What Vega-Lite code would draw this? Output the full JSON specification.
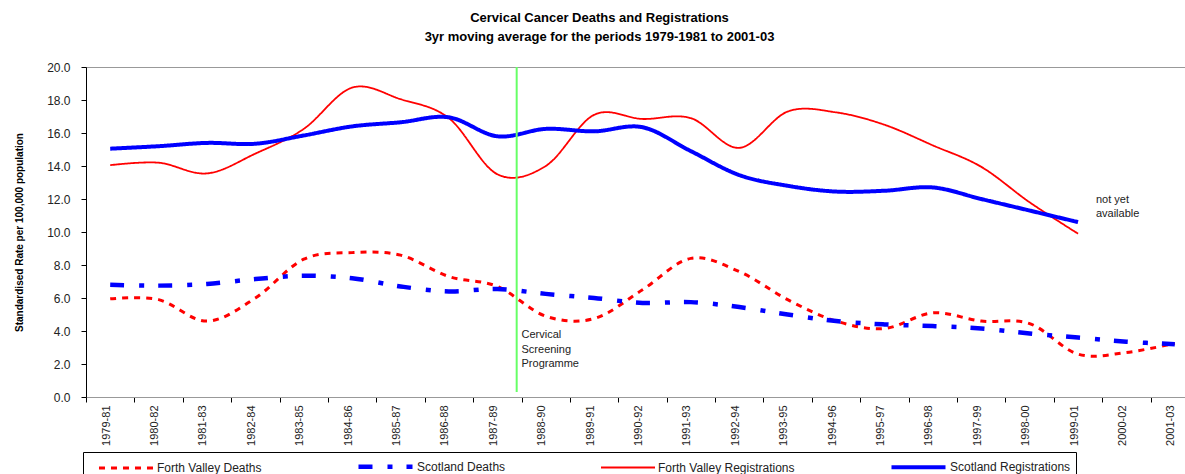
{
  "$schema": "https://vega.github.io/schema/vega-lite/v6.json",
  "width": 1099,
  "height": 330,
  "autosize": {"type": "none"},
  "padding": {"left": 86, "top": 67, "right": 0, "bottom": 77},
  "background": "white",
  "config": {"view": {"stroke": "#999", "strokeWidth": 1}, "font": "Liberation Sans", "axisY": {"labelOverlap": false}},
  "title": {
    "text": ["Cervical Cancer Deaths and Registrations", "3yr moving average for the periods 1979-1981 to 2001-03"],
    "fontSize": 13, "fontWeight": "bold", "font": "Liberation Sans", "color": "#000",
    "lineHeight": 19, "anchor": "middle", "frame": "group", "dx": -36, "offset": 17
  },
  "encoding": {
    "y": {
      "field": "value", "type": "quantitative",
      "scale": {"domain": [0, 20], "nice": false},
      "axis": {
        "title": "Standardised Rate per 100,000 population", "titleFontSize": 10,
        "titleFontWeight": "bold", "titleFont": "Liberation Sans", "titleColor": "#000",
        "titlePadding": 22, "values": [0, 2, 4, 6, 8, 10, 12, 14, 16, 18, 20], "tickCount": 11, "format": ".1f",
        "labelFontSize": 12, "labelColor": "#222", "labelFont": "Liberation Sans", "labelOverlap": false,
        "labelBound": false, "labelPadding": 11, "tickSize": 5, "tickColor": "#000", "domainColor": "#000", "grid": false
      }
    }
  },
  "layer": [
    {
      "data": {"values": [
        {"period": "1979-81", "series": "Forth Valley Deaths", "value": 5.95},
        {"period": "1980-82", "series": "Forth Valley Deaths", "value": 5.9},
        {"period": "1981-83", "series": "Forth Valley Deaths", "value": 4.6},
        {"period": "1982-84", "series": "Forth Valley Deaths", "value": 6.0},
        {"period": "1983-85", "series": "Forth Valley Deaths", "value": 8.35},
        {"period": "1984-86", "series": "Forth Valley Deaths", "value": 8.75},
        {"period": "1985-87", "series": "Forth Valley Deaths", "value": 8.6},
        {"period": "1986-88", "series": "Forth Valley Deaths", "value": 7.3},
        {"period": "1987-89", "series": "Forth Valley Deaths", "value": 6.7},
        {"period": "1988-90", "series": "Forth Valley Deaths", "value": 4.9},
        {"period": "1989-91", "series": "Forth Valley Deaths", "value": 4.75},
        {"period": "1990-92", "series": "Forth Valley Deaths", "value": 6.5},
        {"period": "1991-93", "series": "Forth Valley Deaths", "value": 8.4},
        {"period": "1992-94", "series": "Forth Valley Deaths", "value": 7.6},
        {"period": "1993-95", "series": "Forth Valley Deaths", "value": 5.9},
        {"period": "1994-96", "series": "Forth Valley Deaths", "value": 4.6},
        {"period": "1995-97", "series": "Forth Valley Deaths", "value": 4.15},
        {"period": "1996-98", "series": "Forth Valley Deaths", "value": 5.1},
        {"period": "1997-99", "series": "Forth Valley Deaths", "value": 4.6},
        {"period": "1998-00", "series": "Forth Valley Deaths", "value": 4.45},
        {"period": "1999-01", "series": "Forth Valley Deaths", "value": 2.6},
        {"period": "2000-02", "series": "Forth Valley Deaths", "value": 2.7},
        {"period": "2001-03", "series": "Forth Valley Deaths", "value": 3.25},
        {"period": "1979-81", "series": "Scotland Deaths", "value": 6.8},
        {"period": "1980-82", "series": "Scotland Deaths", "value": 6.75},
        {"period": "1981-83", "series": "Scotland Deaths", "value": 6.85},
        {"period": "1982-84", "series": "Scotland Deaths", "value": 7.15},
        {"period": "1983-85", "series": "Scotland Deaths", "value": 7.35},
        {"period": "1984-86", "series": "Scotland Deaths", "value": 7.2},
        {"period": "1985-87", "series": "Scotland Deaths", "value": 6.7},
        {"period": "1986-88", "series": "Scotland Deaths", "value": 6.4},
        {"period": "1987-89", "series": "Scotland Deaths", "value": 6.55},
        {"period": "1988-90", "series": "Scotland Deaths", "value": 6.25},
        {"period": "1989-91", "series": "Scotland Deaths", "value": 6.0},
        {"period": "1990-92", "series": "Scotland Deaths", "value": 5.7},
        {"period": "1991-93", "series": "Scotland Deaths", "value": 5.75},
        {"period": "1992-94", "series": "Scotland Deaths", "value": 5.45},
        {"period": "1993-95", "series": "Scotland Deaths", "value": 5.0},
        {"period": "1994-96", "series": "Scotland Deaths", "value": 4.6},
        {"period": "1995-97", "series": "Scotland Deaths", "value": 4.4},
        {"period": "1996-98", "series": "Scotland Deaths", "value": 4.3},
        {"period": "1997-99", "series": "Scotland Deaths", "value": 4.15},
        {"period": "1998-00", "series": "Scotland Deaths", "value": 3.85},
        {"period": "1999-01", "series": "Scotland Deaths", "value": 3.6},
        {"period": "2000-02", "series": "Scotland Deaths", "value": 3.35},
        {"period": "2001-03", "series": "Scotland Deaths", "value": 3.2},
        {"period": "1979-81", "series": "Forth Valley Registrations", "value": 14.05},
        {"period": "1980-82", "series": "Forth Valley Registrations", "value": 14.2},
        {"period": "1981-83", "series": "Forth Valley Registrations", "value": 13.55},
        {"period": "1982-84", "series": "Forth Valley Registrations", "value": 14.75},
        {"period": "1983-85", "series": "Forth Valley Registrations", "value": 16.25},
        {"period": "1984-86", "series": "Forth Valley Registrations", "value": 18.75},
        {"period": "1985-87", "series": "Forth Valley Registrations", "value": 18.05},
        {"period": "1986-88", "series": "Forth Valley Registrations", "value": 16.9},
        {"period": "1987-89", "series": "Forth Valley Registrations", "value": 13.5},
        {"period": "1988-90", "series": "Forth Valley Registrations", "value": 14.0},
        {"period": "1989-91", "series": "Forth Valley Registrations", "value": 17.1},
        {"period": "1990-92", "series": "Forth Valley Registrations", "value": 16.85},
        {"period": "1991-93", "series": "Forth Valley Registrations", "value": 16.9},
        {"period": "1992-94", "series": "Forth Valley Registrations", "value": 15.1},
        {"period": "1993-95", "series": "Forth Valley Registrations", "value": 17.3},
        {"period": "1994-96", "series": "Forth Valley Registrations", "value": 17.25},
        {"period": "1995-97", "series": "Forth Valley Registrations", "value": 16.5},
        {"period": "1996-98", "series": "Forth Valley Registrations", "value": 15.25},
        {"period": "1997-99", "series": "Forth Valley Registrations", "value": 13.95},
        {"period": "1998-00", "series": "Forth Valley Registrations", "value": 11.8},
        {"period": "1999-01", "series": "Forth Valley Registrations", "value": 9.9},
        {"period": "1979-81", "series": "Scotland Registrations", "value": 15.05},
        {"period": "1980-82", "series": "Scotland Registrations", "value": 15.2},
        {"period": "1981-83", "series": "Scotland Registrations", "value": 15.4},
        {"period": "1982-84", "series": "Scotland Registrations", "value": 15.35},
        {"period": "1983-85", "series": "Scotland Registrations", "value": 15.85},
        {"period": "1984-86", "series": "Scotland Registrations", "value": 16.4},
        {"period": "1985-87", "series": "Scotland Registrations", "value": 16.65},
        {"period": "1986-88", "series": "Scotland Registrations", "value": 16.95},
        {"period": "1987-89", "series": "Scotland Registrations", "value": 15.8},
        {"period": "1988-90", "series": "Scotland Registrations", "value": 16.25},
        {"period": "1989-91", "series": "Scotland Registrations", "value": 16.1},
        {"period": "1990-92", "series": "Scotland Registrations", "value": 16.35},
        {"period": "1991-93", "series": "Scotland Registrations", "value": 14.9},
        {"period": "1992-94", "series": "Scotland Registrations", "value": 13.45},
        {"period": "1993-95", "series": "Scotland Registrations", "value": 12.8},
        {"period": "1994-96", "series": "Scotland Registrations", "value": 12.45},
        {"period": "1995-97", "series": "Scotland Registrations", "value": 12.5},
        {"period": "1996-98", "series": "Scotland Registrations", "value": 12.7},
        {"period": "1997-99", "series": "Scotland Registrations", "value": 12.0},
        {"period": "1998-00", "series": "Scotland Registrations", "value": 11.3},
        {"period": "1999-01", "series": "Scotland Registrations", "value": 10.6}
      ]},
      "mark": {"type": "line", "interpolate": "cardinal", "strokeCap": "butt"},
      "encoding": {
        "x": {
          "field": "period", "type": "ordinal", "bandPosition": 0.5,
          "scale": {"type": "band", "range": [0, 1113], "paddingInner": 0, "paddingOuter": 0},
          "axis": {
            "title": null, "labelAngle": -90, "labelFontSize": 11, "labelColor": "#222",
            "labelFont": "Liberation Sans", "tickBand": "extent", "tickSize": 5, "tickColor": "#000",
            "domainColor": "#999", "labelPadding": 3, "labelOffset": -4, "grid": false
          }
        },
        "color": {
          "field": "series", "type": "nominal",
          "scale": {
            "domain": ["Forth Valley Deaths", "Scotland Deaths", "Forth Valley Registrations", "Scotland Registrations"],
            "range": ["#ff0000", "#0000ff", "#ff0000", "#0000ff"]
          },
          "legend": {
            "title": null, "orient": "none", "legendX": -3, "legendY": 385, "direction": "horizontal",
            "symbolType": "M-3.82,0H3.82", "symbolSize": 200, "symbolOffset": 29, "labelOffset": 22,
            "labelFontSize": 12, "labelFont": "Liberation Sans",
            "labelColor": "#222", "columnPadding": 85, "strokeColor": "#000", "padding": 5
          }
        },
        "strokeDash": {
          "field": "series", "type": "nominal",
          "scale": {
            "domain": ["Forth Valley Deaths", "Scotland Deaths", "Forth Valley Registrations", "Scotland Registrations"],
            "range": [[6, 6], [14, 15, 5, 14], [1, 0], [1, 0]]
          }
        },
        "strokeWidth": {
          "field": "series", "type": "nominal",
          "scale": {
            "type": "ordinal",
            "domain": ["Forth Valley Deaths", "Scotland Deaths", "Forth Valley Registrations", "Scotland Registrations"],
            "range": [3, 4.5, 1.8, 4]
          }
        }
      }
    },
    {
      "data": {"values": [{"period": "1987-89", "value": 20, "value2": 0.3}]},
      "mark": {"type": "rule", "color": "#66ff66", "strokeWidth": 2},
      "encoding": {
        "x": {"field": "period", "type": "ordinal", "bandPosition": 0.9},
        "y2": {"field": "value2"}
      }
    },
    {
      "data": {"values": [
        {"period": "1988-90", "value": 3.56, "label": "Cervical\nScreening\nProgramme"}
      ]},
      "mark": {"type": "text", "align": "left", "baseline": "alphabetic", "lineBreak": "\n", "lineHeight": 14.5, "fontSize": 11, "font": "Liberation Sans", "color": "#222"},
      "encoding": {
        "x": {"field": "period", "type": "ordinal", "bandPosition": 0},
        "text": {"field": "label"}
      }
    },
    {
      "data": {"values": [
        {"period": "1999-01", "value": 11.78, "label": "not yet\navailable"}
      ]},
      "mark": {"type": "text", "align": "left", "baseline": "alphabetic", "lineBreak": "\n", "lineHeight": 14.5, "fontSize": 11, "font": "Liberation Sans", "color": "#222"},
      "encoding": {
        "x": {"field": "period", "type": "ordinal", "bandPosition": 0.87},
        "text": {"field": "label"}
      }
    }
  ]
}
